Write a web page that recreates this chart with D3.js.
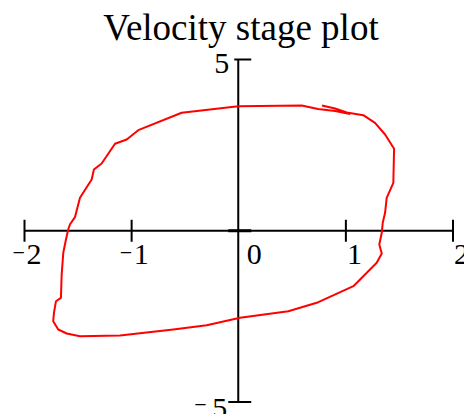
<!DOCTYPE html>
<html><head><meta charset="utf-8">
<script src="https://cdn.jsdelivr.net/npm/d3@7/dist/d3.min.js"></script>
<style>html,body{margin:0;padding:0;background:#fff;} svg{display:block;}</style>
</head><body>
<svg id="c" width="464" height="414"></svg>
<script>
const title = "Velocity stage plot";
const xTicks = [-2, -1, 0, 1, 2];
const yTicks = [-5, 0, 5];
const xLabels = ["2", "1", "0", "1", "2"];
const xNeg = [true, true, false, false, false];
const yLabelTicks = [5, -5];
const yLabels = ["5", "5"];
const yNeg = [false, true];
// trajectory (position, velocity)
const posX = [0.777,0.899,1.008,1.163,1.272,1.366,1.450,1.443,1.381,1.366,1.344,1.335,1.312,1.335,1.288,1.070,0.743,0.463,0.012,-0.299,-0.611,-1.109,-1.482,-1.606,-1.685,-1.732,-1.725,-1.706,-1.660,-1.653,-1.638,-1.613,-1.592,-1.576,-1.529,-1.482,-1.373,-1.352,-1.280,-1.155,-1.046,-0.938,-0.533,-0.004,0.588,0.740,0.899,1.039];
const velY = [3.657,3.569,3.453,3.374,3.152,2.810,2.393,1.400,0.962,0.524,0.232,-0.060,-0.401,-0.664,-0.936,-1.619,-2.086,-2.349,-2.542,-2.758,-2.883,-3.058,-3.079,-3.000,-2.883,-2.641,-2.396,-2.057,-1.958,-1.277,-0.644,-0.255,0.036,0.182,0.396,0.962,1.496,1.788,1.964,2.539,2.664,2.936,3.444,3.636,3.657,3.555,3.496,3.409];

const svg = d3.select("#c");
const x = d3.scaleLinear().domain([-2, 2]).range([24.5, 453]);
const y = d3.scaleLinear().domain([-5, 5]).range([402, 59.5]);
const font = "'Liberation Serif','Times New Roman',serif";

svg.append("text").attr("x", 241).attr("y", 39.5).attr("text-anchor", "middle")
  .attr("font-family", font).attr("font-size", 37).attr("fill", "#000").text(title);

const ax = svg.append("g").attr("stroke", "#000").attr("stroke-width", 2);
// x axis
ax.append("line").attr("x1", x(-2)).attr("x2", x(2)).attr("y1", y(0)).attr("y2", y(0));
ax.selectAll(".xt").data(xTicks.filter(d => d !== 0)).join("line")
  .attr("x1", d => x(d)).attr("x2", d => x(d)).attr("y1", y(0) - 11).attr("y2", y(0) + 11);
// y axis
const x0 = x(0) - 0.5;
ax.append("line").attr("x1", x0).attr("x2", x0).attr("y1", y(5)).attr("y2", y(-5));
ax.selectAll(".yt").data(yTicks).join("line")
  .attr("x1", d => d === 5 ? x0 - 4 : x0 - 10).attr("x2", x0 + 13)
  .attr("y1", d => y(d)).attr("y2", d => y(d))
  .attr("stroke-width", d => d === 0 ? 3 : 2);

// x labels
const xl = svg.append("g").attr("font-family", font).attr("font-size", 30).attr("fill", "#000");
xTicks.forEach((t, i) => {
  const tx = xl.append("text").attr("y", y(0) + 33);
  if (xNeg[i]) {
    tx.append("tspan").attr("x", x(t) - 12).attr("font-size", 22).attr("dy", -4).text("\u2212");
    tx.append("tspan").attr("x", x(t) + 2).attr("dy", 4).text(xLabels[i]);
  } else {
    tx.append("tspan").attr("x", t === 0 ? x(t) + 8 : x(t) + 1).text(xLabels[i]);
  }
});
// y labels
yLabelTicks.forEach((t, i) => {
  const tx = xl.append("text").attr("y", t > 0 ? y(t) + 13 : y(t) + 16);
  if (yNeg[i]) {
    tx.append("tspan").attr("x", x0 - 44).attr("font-size", 22).attr("dy", -6).text("\u2212");
    tx.append("tspan").attr("x", x0 - 26).attr("dy", 6).text(yLabels[i]);
  } else {
    tx.append("tspan").attr("x", x0 - 24).text(yLabels[i]);
  }
});

const pts = posX.map((v, i) => [v, velY[i]]);
svg.append("path").datum(pts)
  .attr("d", d3.line().x(d => x(d[0])).y(d => y(d[1])))
  .attr("fill", "none").attr("stroke", "#ff0000").attr("stroke-width", 2)
  .attr("stroke-linejoin", "round");
</script>
</body></html>
